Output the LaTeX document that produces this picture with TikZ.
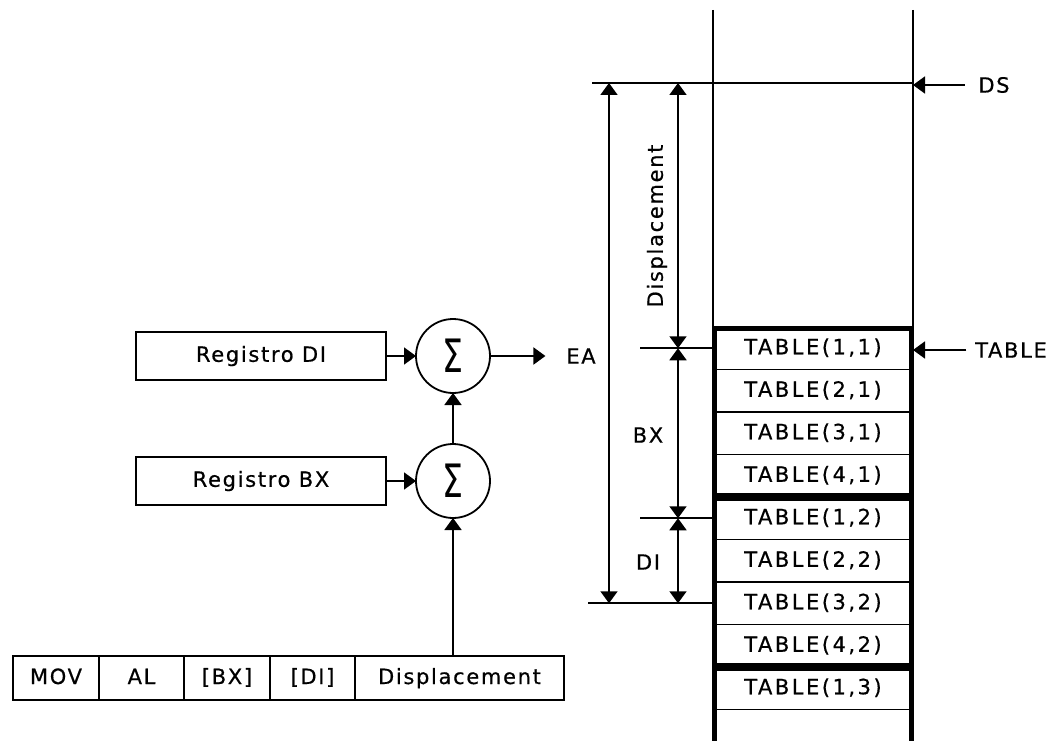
\documentclass[tikz,border=0pt]{standalone}
\usepackage{fontspec}
\setmainfont{DejaVu Sans}[LetterSpace=8, FakeBold=0.6]
\newfontfamily\sumfont{DejaVu Sans}
\usetikzlibrary{arrows.meta,positioning}

\begin{document}
\begin{tikzpicture}[
  x=1pt, y=-1pt,
  line width=1.8pt,
  >={Triangle[width=17pt,length=12pt]},
  every node/.style={font=\fontsize{21}{25}\selectfont},
  regbox/.style={draw, minimum width=250pt, minimum height=48pt, outer sep=0pt},
  sumnode/.style={draw, circle, minimum size=74pt, inner sep=0pt, outer sep=0pt},
  field/.style={draw, minimum height=44pt, inner sep=0pt, outer sep=0pt, text height=16pt, text depth=4pt},
  cell/.style={draw, line width=1.8pt, minimum width=200pt, minimum height=42.5pt, inner sep=0pt, outer sep=0pt, text height=16pt, text depth=4pt,
    font=\fontsize{21}{25}\selectfont\addfontfeature{LetterSpace=12}},
  tblgrp/.style={line width=4pt},
  lbl/.style={inner sep=0pt},
]

\newcommand\sumsign{\scalebox{0.72}[1]{\sumfont\fontsize{46}{46}\selectfont Σ}}

\useasboundingbox (0,0) rectangle (1055,741);

\draw (713,10) -- (713,741);
\draw (913,10) -- (913,741);
\coordinate (dsL) at (592,83);
\coordinate (dsR) at (913,83);
\draw (dsL) -- (dsR);

\foreach \c in {1,2}
  \foreach \r in {1,...,4}
    \node [cell] (t\r\c) at (813,{327+170*(\c-1)+42.5*(\r-0.5)}) {TABLE(\r,\c)};
\node [cell] (t13) at (813,688.25) {TABLE(1,3)};
\node [cell, below=0pt of t13] (t23) {};

\draw [tblgrp] ([shift={(2,2)}]t11.north west) rectangle ([shift={(-2,-2)}]t41.south east);
\draw [tblgrp] ([shift={(2,2)}]t12.north west) rectangle ([shift={(-2,-2)}]t42.south east);
\draw [tblgrp] ([shift={(2,2)}]t13.north west) rectangle ([shift={(-2,-2)}]t23.south east);

\node [lbl] (ds) at (994,85) {DS};
\draw [->, shorten <=13pt] (ds.west) -- (ds.west -| dsR);
\node [lbl] (tbl) at (1011,350) {TABLE};
\draw [->, shorten <=8pt] (tbl.west) -- (tbl.west -| t11.east);

\draw (t11.west) -- ++(-73,0) coordinate (mA);
\draw (t12.west) -- ++(-73,0) coordinate (mB);
\draw (t32.west) -- ++(-125,0) coordinate (mC);

\draw [<->] (609,0 |- dsL) -- (609,0 |- mC);
\draw [<->] (678,0 |- dsL) -- (678,0 |- mA);
\draw [<->] (678,0 |- mA) -- (678,0 |- mB);
\draw [<->] (678,0 |- mB) -- (678,0 |- mC);

\node [lbl, rotate=90] (dplab) at (657,226) {Displacement};
\node [lbl] (bxlab) at (648,435) {BX};
\node [lbl] (dilab) at (648,562) {DI};

\node [regbox] (regdi) at (261,356) {Registro DI};
\node [regbox] (regbx) at (261,481) {Registro BX};
\node [sumnode] (sumdi) at (453,356) {\sumsign};
\node [sumnode] (sumbx) at (453,481) {\sumsign};
\node [lbl] (ea) at (581,356) {EA};

\draw [->] (regdi) -- (sumdi);
\draw [->] (regbx) -- (sumbx);
\draw [->] (sumbx) -- (sumdi);
\draw [->, shorten >=20pt] (sumdi) -- (ea);

\node [field, minimum width=86pt] (mov) at (56,678) {MOV};
\node [field, minimum width=85pt, right=0pt of mov] (al) {AL};
\node [field, minimum width=86pt, right=0pt of al] (bx) {[BX]};
\node [field, minimum width=85pt, right=0pt of bx] (di) {[DI]};
\node [field, minimum width=209pt, right=0pt of di] (disp) {Displacement};
\draw [->] (disp.north -| sumbx) -- (sumbx);

\end{tikzpicture}
\end{document}
